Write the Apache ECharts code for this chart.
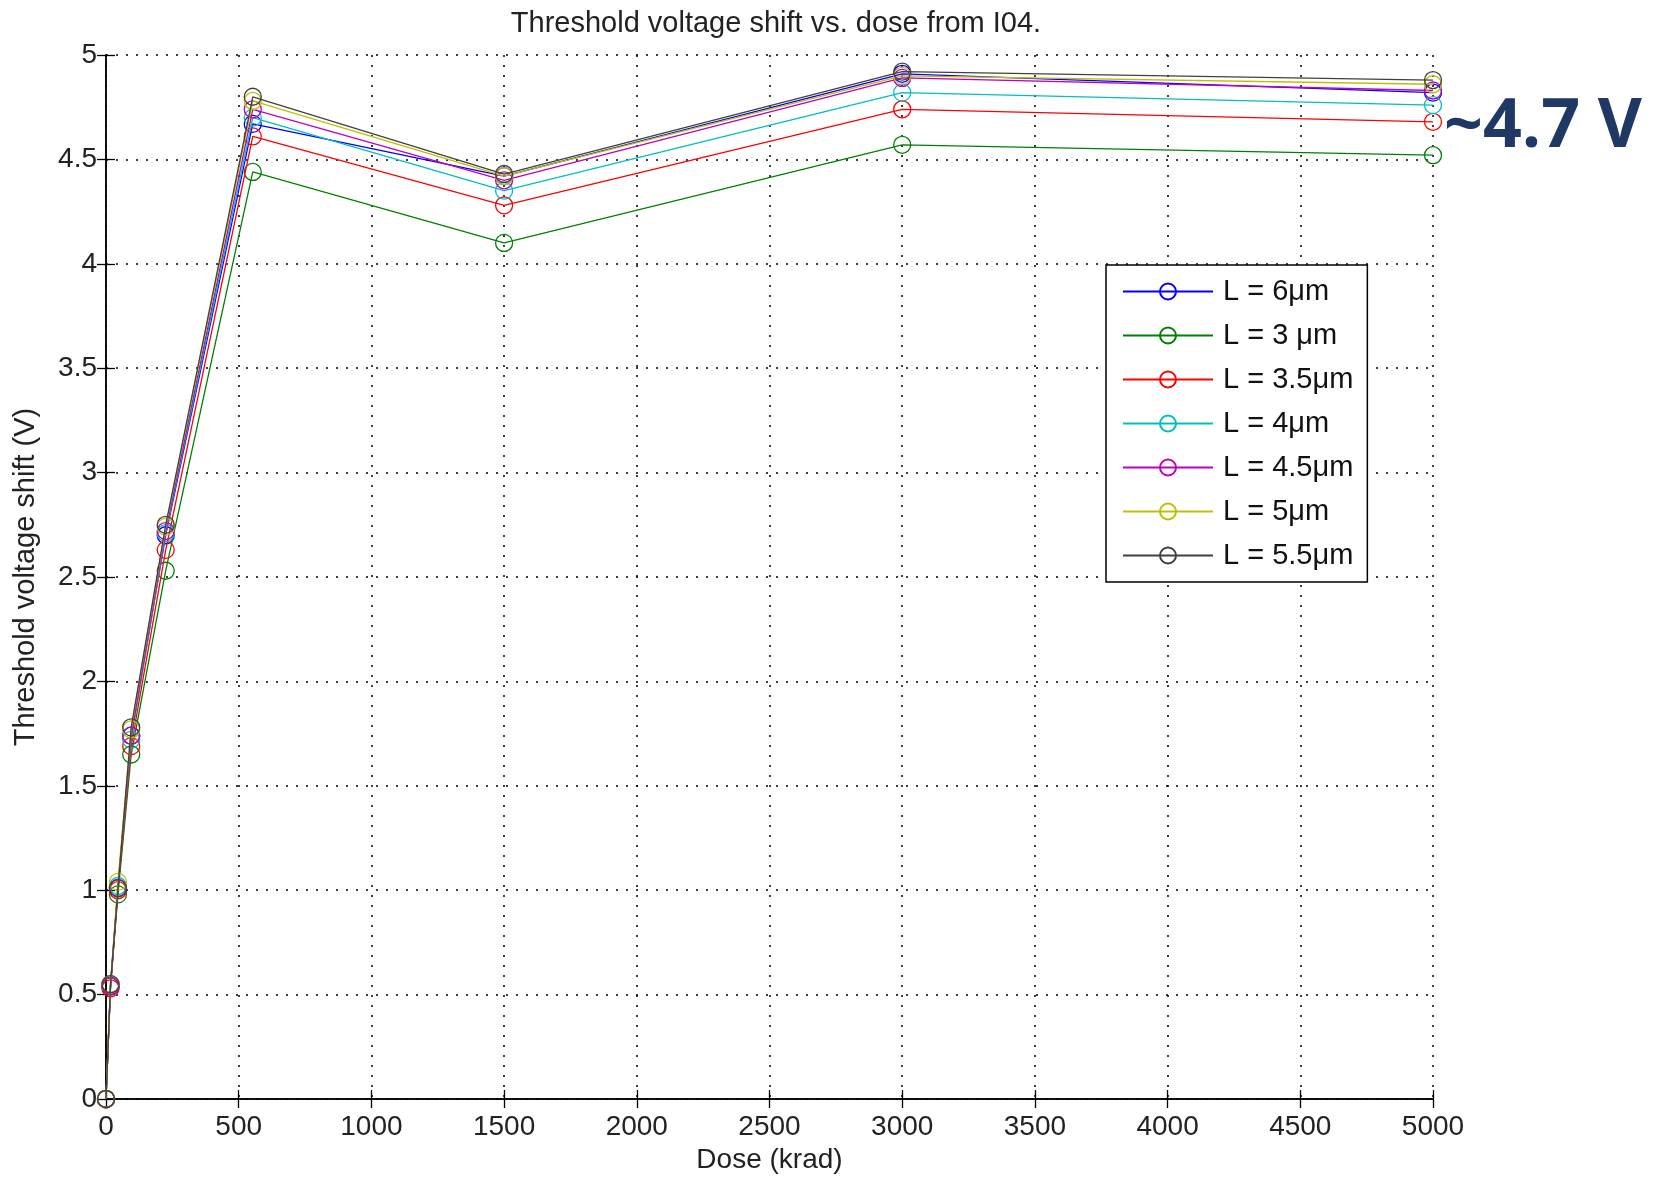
<!DOCTYPE html>
<html>
<head>
<meta charset="utf-8">
<script src="https://cdn.jsdelivr.net/npm/echarts@6/dist/echarts.min.js"></script>
<style>
html,body{margin:0;padding:0;background:#fff;}
#chart{width:1656px;height:1179px;}
</style>
</head>
<body>
<div id="chart"></div>
<script>
// Dose (krad)
const doses = [0, 17, 45, 95, 225, 553, 1500, 3000, 5000];
// Threshold voltage shift (V) per channel length
const L6   = [0, 0.54, 1.01, 1.74, 2.70, 4.67, 4.42, 4.91, 4.82];
const L3   = [0, 0.54, 0.98, 1.65, 2.53, 4.44, 4.10, 4.57, 4.52];
const L35  = [0, 0.53, 1.00, 1.69, 2.63, 4.61, 4.28, 4.74, 4.68];
const L4   = [0, 0.55, 1.02, 1.72, 2.71, 4.70, 4.35, 4.82, 4.76];
const L45  = [0, 0.54, 1.01, 1.74, 2.72, 4.74, 4.40, 4.89, 4.83];
const L5   = [0, 0.55, 1.04, 1.77, 2.74, 4.78, 4.42, 4.90, 4.86];
const L55  = [0, 0.55, 1.01, 1.78, 2.75, 4.80, 4.43, 4.92, 4.88];
const seriesNames = ['L = 6μm', 'L = 3 μm', 'L = 3.5μm', 'L = 4μm', 'L = 4.5μm', 'L = 5μm', 'L = 5.5μm'];
const seriesData = [L6, L3, L35, L4, L45, L5, L55];
const seriesColors = ['#0000ff', '#008000', '#ff0000', '#00bfbf', '#bf00bf', '#bfbf00', '#404040'];

const font = 'Liberation Sans';
const chart = echarts.init(document.getElementById('chart'));
const series = seriesNames.map((n, i) => ({
  name: n,
  type: 'line',
  data: doses.map((d, j) => [d, seriesData[i][j]]),
  symbol: 'circle',
  symbolSize: 17,
  showAllSymbol: true,
  color: seriesColors[i],
  lineStyle: { width: 1.3, color: seriesColors[i] },
  itemStyle: { color: 'rgba(255,255,255,0)', borderColor: seriesColors[i], borderWidth: 1.3 },
  emphasis: { disabled: true },
  animation: false,
  z: 2 + i
}));

chart.setOption({
  backgroundColor: '#fff',
  animation: false,
  title: {
    text: 'Threshold voltage shift vs. dose from I04.',
    left: 771, top: 4, textAlign: 'center',
    textStyle: { fontFamily: font, fontSize: 29, fontWeight: 'normal', color: '#222' }
  },
  grid: { left: 106, right: 223, top: 55, bottom: 79, containLabel: false },
  legend: {
    orient: 'vertical',
    left: 1106, top: 265,
    data: seriesNames,
    backgroundColor: '#fff',
    borderColor: '#000', borderWidth: 1.5,
    padding: [12, 14, 12, 16],
    itemGap: 15,
    itemWidth: 90, itemHeight: 20,
    textStyle: { fontFamily: font, fontSize: 29, color: '#111', padding: [0, 0, 0, 5] },
    selectedMode: false
  },
  xAxis: [{
    type: 'value', min: 0, max: 5000, interval: 500,
    name: 'Dose (krad)', nameLocation: 'middle', nameGap: 47,
    nameTextStyle: { fontFamily: font, fontSize: 28, color: '#222' },
    axisLine: { lineStyle: { color: '#000', width: 1.5 } },
    axisTick: { inside: true, length: 9, lineStyle: { color: '#000', width: 1.3 } },
    axisLabel: { fontFamily: font, fontSize: 28, color: '#222', margin: 14, formatter: v => String(v) },
    splitLine: { show: true, lineStyle: { color: '#000', width: 1.5, type: [2, 8] } }
  }, {
    type: 'value', min: 0, max: 5000, interval: 500, position: 'top',
    axisLine: { show: true, lineStyle: { color: '#000', width: 1.5 } },
    axisTick: { show: true, inside: true, length: 9, lineStyle: { color: '#000', width: 1.3 } },
    axisLabel: { show: false }, splitLine: { show: false }
  }],
  yAxis: [{
    type: 'value', min: 0, max: 5, interval: 0.5,
    name: 'Threshold voltage shift (V)', nameLocation: 'middle', nameGap: 66,
    nameTextStyle: { fontFamily: font, fontSize: 29, color: '#222' },
    axisLine: { show: true, lineStyle: { color: '#000', width: 1.5 } },
    axisTick: { show: true, inside: true, length: 9, lineStyle: { color: '#000', width: 1.3 } },
    axisLabel: { fontFamily: font, fontSize: 28, color: '#222', margin: 9 },
    splitLine: { show: true, lineStyle: { color: '#000', width: 1.5, type: [2, 8] } }
  }, {
    type: 'value', min: 0, max: 5, interval: 0.5, position: 'right',
    axisLine: { show: true, lineStyle: { color: '#000', width: 1.5 } },
    axisTick: { show: true, inside: true, length: 9, lineStyle: { color: '#000', width: 1.3 } },
    axisLabel: { show: false }, splitLine: { show: false }
  }],
  graphic: [{
    type: 'text', left: 1444, top: 94, z: 100,
    style: { text: '~4.7 V', fontFamily: 'Open Sans', fontWeight: 'bold', fontSize: 68, fill: '#1f3864' }
  }],
  series: series
});
</script>
</body>
</html>
